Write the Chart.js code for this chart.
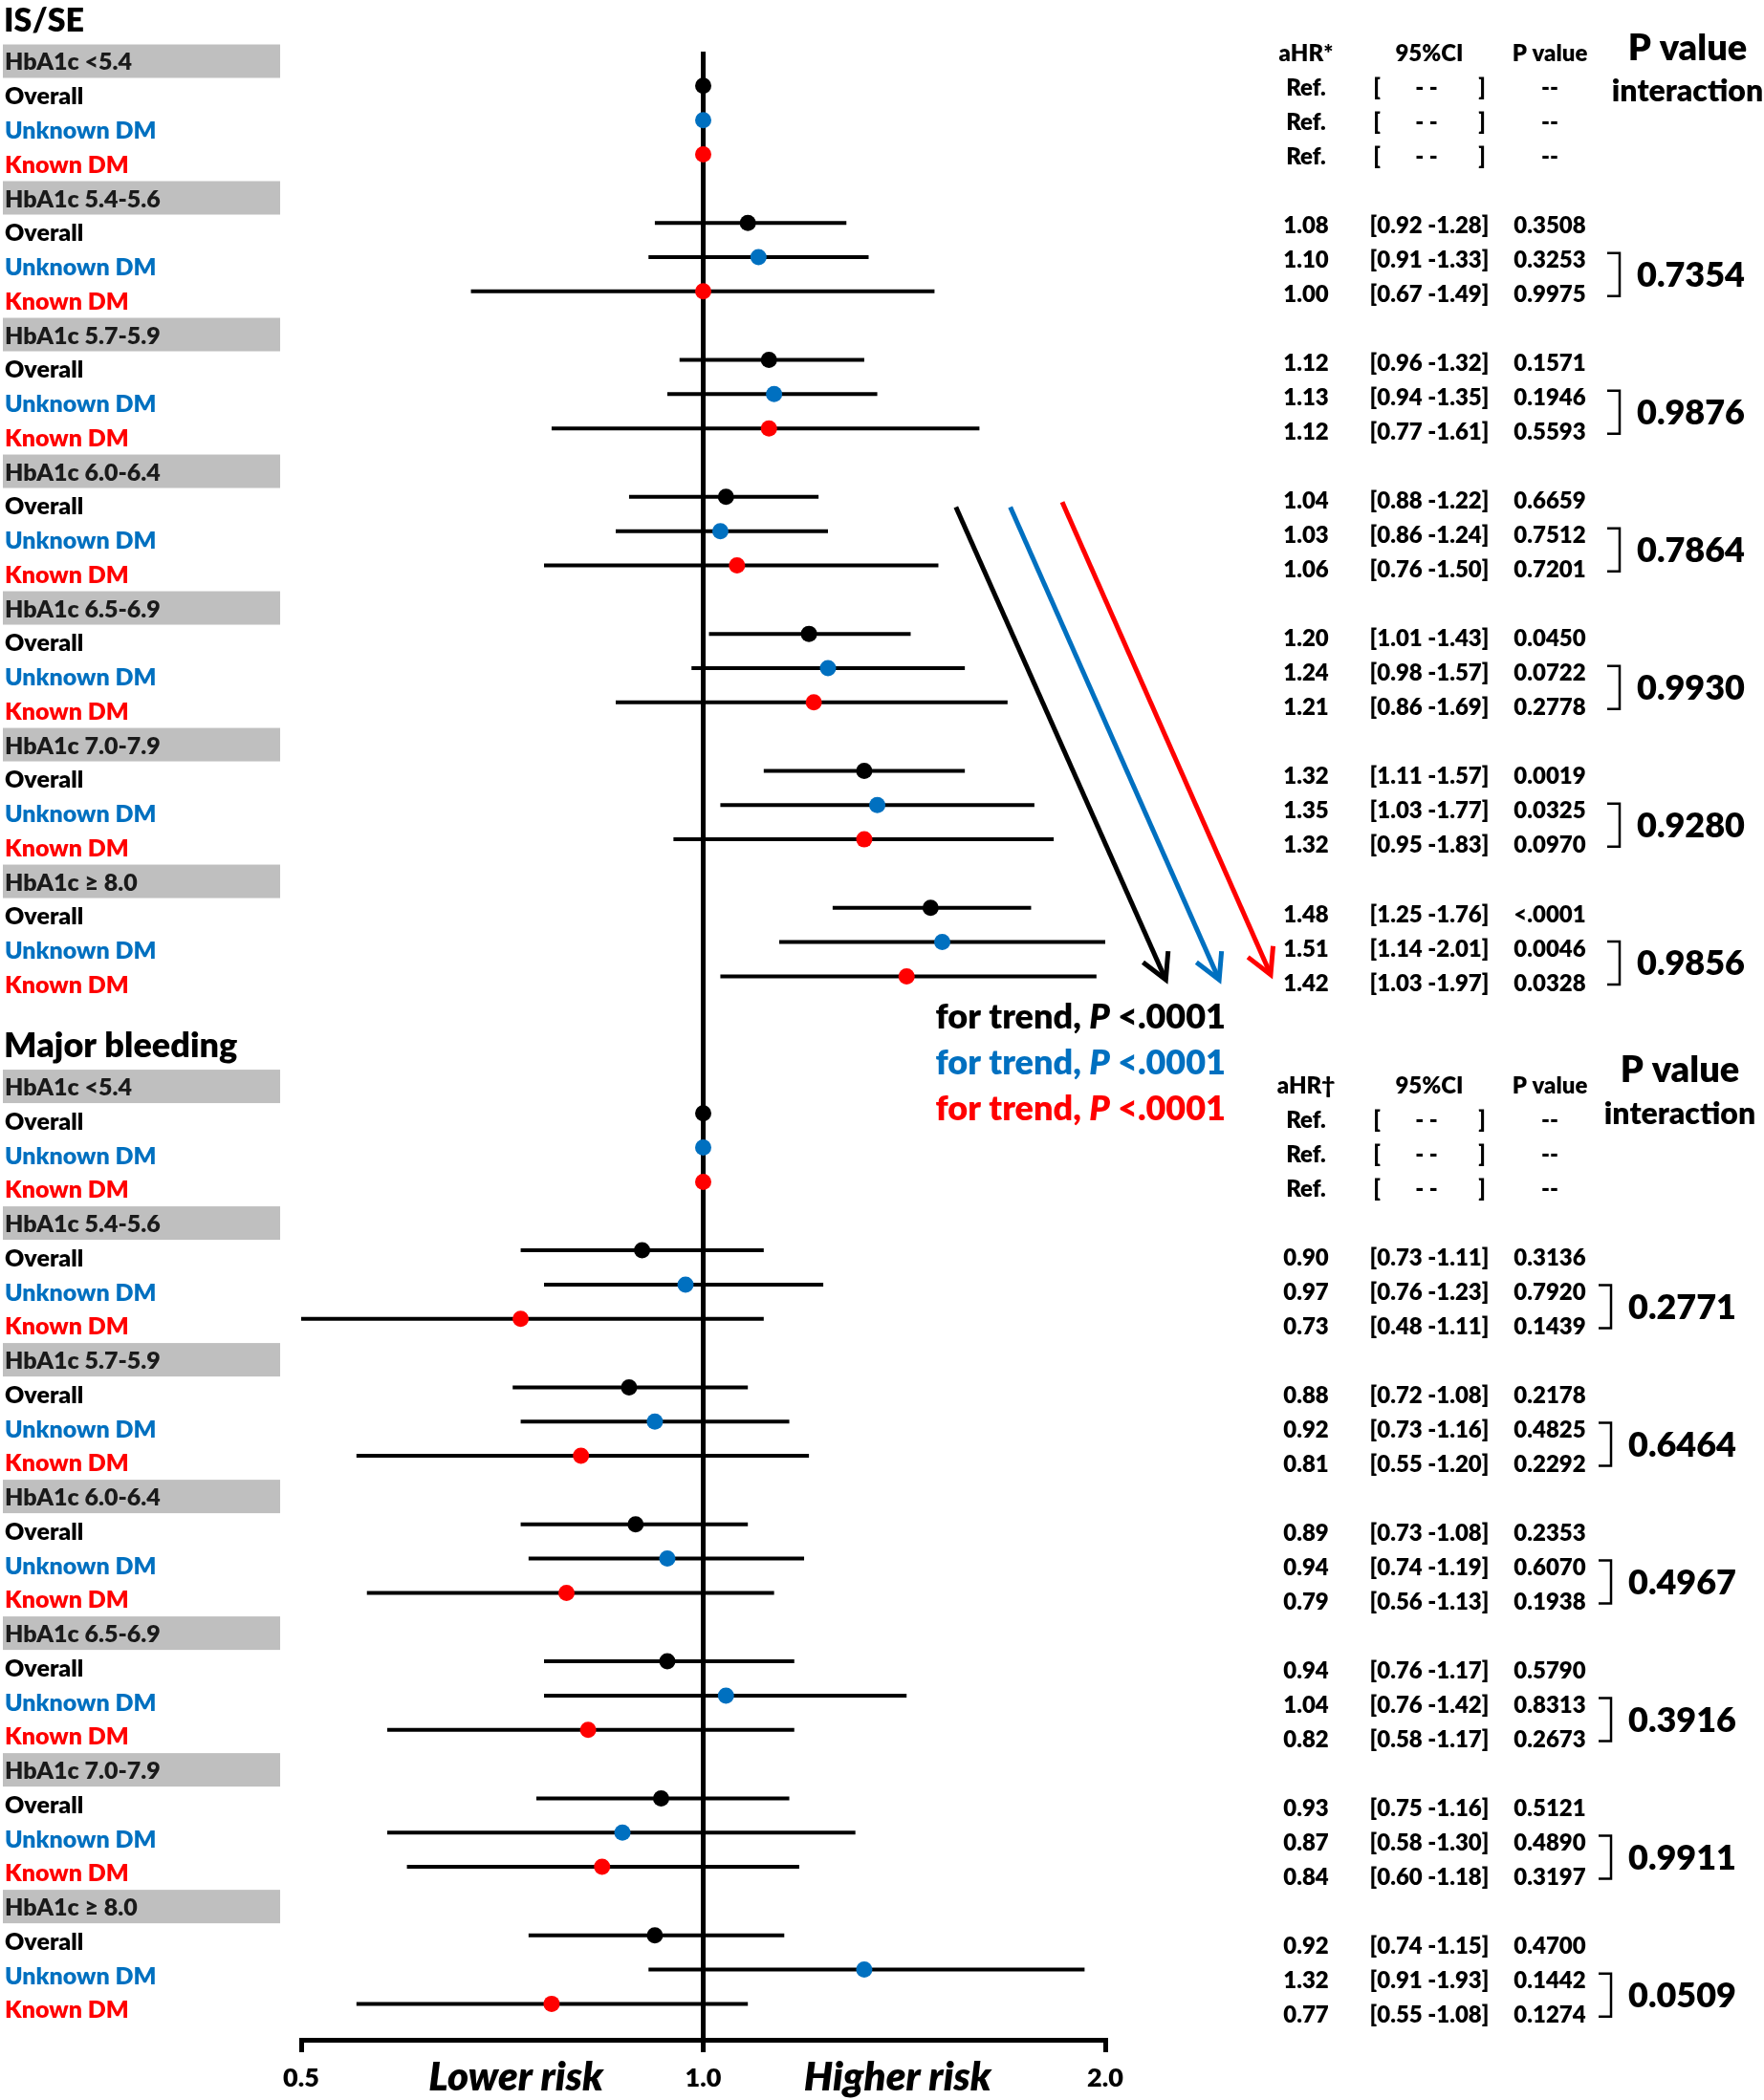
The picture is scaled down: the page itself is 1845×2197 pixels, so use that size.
<!DOCTYPE html>
<html>
<head>
<meta charset="utf-8">
<title>HbA1c and outcomes - forest plot</title>
<script src="https://cdn.jsdelivr.net/npm/chart.js@4.4.1/dist/chart.umd.min.js"></script>
<style>
  html, body { margin: 0; padding: 0; background: #fff; }
  canvas { display: block; }
</style>
</head>
<body>
<canvas id="forest" width="1845" height="2197"></canvas>
<script>
// --- Categories ---
const sectionTitles = ['IS/SE', 'Major bleeding'];
const hrHeaders = ['aHR*', 'aHR\u2020'];
const hba1cGroups = ['HbA1c <5.4', 'HbA1c 5.4-5.6', 'HbA1c 5.7-5.9', 'HbA1c 6.0-6.4', 'HbA1c 6.5-6.9', 'HbA1c 7.0-7.9', 'HbA1c \u2265 8.0'];
const subgroups = ['Overall', 'Unknown DM', 'Known DM'];
const xTickValues = [0.5, 1, 2];

// --- IS/SE ---
const isOverallHR = [1, 1.08, 1.12, 1.04, 1.20, 1.32, 1.48];
const isOverallLo = [null, 0.92, 0.96, 0.88, 1.01, 1.11, 1.25];
const isOverallHi = [null, 1.28, 1.32, 1.22, 1.43, 1.57, 1.76];
const isOverallP = ['--', '0.3508', '0.1571', '0.6659', '0.0450', '0.0019', '<.0001'];

const isUnknownHR = [1, 1.10, 1.13, 1.03, 1.24, 1.35, 1.51];
const isUnknownLo = [null, 0.91, 0.94, 0.86, 0.98, 1.03, 1.14];
const isUnknownHi = [null, 1.33, 1.35, 1.24, 1.57, 1.77, 2.01];
const isUnknownP = ['--', '0.3253', '0.1946', '0.7512', '0.0722', '0.0325', '0.0046'];

const isKnownHR = [1, 1.00, 1.12, 1.06, 1.21, 1.32, 1.42];
const isKnownLo = [null, 0.67, 0.77, 0.76, 0.86, 0.95, 1.03];
const isKnownHi = [null, 1.49, 1.61, 1.50, 1.69, 1.83, 1.97];
const isKnownP = ['--', '0.9975', '0.5593', '0.7201', '0.2778', '0.0970', '0.0328'];

const isInteractionP = ['', '0.7354', '0.9876', '0.7864', '0.9930', '0.9280', '0.9856'];

// --- Major bleeding ---
const mbOverallHR = [1, 0.90, 0.88, 0.89, 0.94, 0.93, 0.92];
const mbOverallLo = [null, 0.73, 0.72, 0.73, 0.76, 0.75, 0.74];
const mbOverallHi = [null, 1.11, 1.08, 1.08, 1.17, 1.16, 1.15];
const mbOverallP = ['--', '0.3136', '0.2178', '0.2353', '0.5790', '0.5121', '0.4700'];

const mbUnknownHR = [1, 0.97, 0.92, 0.94, 1.04, 0.87, 1.32];
const mbUnknownLo = [null, 0.76, 0.73, 0.74, 0.76, 0.58, 0.91];
const mbUnknownHi = [null, 1.23, 1.16, 1.19, 1.42, 1.30, 1.93];
const mbUnknownP = ['--', '0.7920', '0.4825', '0.6070', '0.8313', '0.4890', '0.1442'];

const mbKnownHR = [1, 0.73, 0.81, 0.79, 0.82, 0.84, 0.77];
const mbKnownLo = [null, 0.48, 0.55, 0.56, 0.58, 0.60, 0.55];
const mbKnownHi = [null, 1.11, 1.20, 1.13, 1.17, 1.18, 1.08];
const mbKnownP = ['--', '0.1439', '0.2292', '0.1938', '0.2673', '0.3197', '0.1274'];

const mbInteractionP = ['', '0.2771', '0.6464', '0.4967', '0.3916', '0.9911', '0.0509'];

const trendLabel = ['for trend, ', 'P', ' <.0001'];

// --- Assemble ---
const sectionSeries = [
    [
        { hr: isOverallHR, lo: isOverallLo, hi: isOverallHi, p: isOverallP },
        { hr: isUnknownHR, lo: isUnknownLo, hi: isUnknownHi, p: isUnknownP },
        { hr: isKnownHR, lo: isKnownLo, hi: isKnownHi, p: isKnownP }
    ],
    [
        { hr: mbOverallHR, lo: mbOverallLo, hi: mbOverallHi, p: mbOverallP },
        { hr: mbUnknownHR, lo: mbUnknownLo, hi: mbUnknownHi, p: mbUnknownP },
        { hr: mbKnownHR, lo: mbKnownLo, hi: mbKnownHi, p: mbKnownP }
    ]
];
const interactionP = [isInteractionP, mbInteractionP];

const subColors = ['#000000', '#0070C0', '#FF0000'];
const FONT = 'Lato, "Open Sans", sans-serif';
const W = '800';          // heavy weight, closer to the original Calibri bold
const SECTION_ROWS = 30;

// row index on the y scale (0 = first header row)
const rowOf = (s, g, k) => s * SECTION_ROWS + g * 4 + 1 + k;

const pointSets = subgroups.map((name, k) => ({
    label: name,
    data: [],
    backgroundColor: subColors[k],
    borderColor: subColors[k],
    borderWidth: 0,
    pointRadius: 8.5,
    pointHoverRadius: 8.5,
    showLine: false,
    order: 0
}));
const ciSets = [];

sectionSeries.forEach((series, s) => {
    series.forEach((ser, k) => {
        ser.hr.forEach((hr, g) => {
            const row = rowOf(s, g, k);
            pointSets[k].data.push({ x: hr, y: row });
            if (ser.lo[g] !== null) {
                ciSets.push({
                    label: 'ci',
                    data: [{ x: ser.lo[g], y: row }, { x: ser.hi[g], y: row }],
                    showLine: true,
                    borderColor: '#000',
                    borderWidth: 4,
                    pointRadius: 0,
                    pointHoverRadius: 0,
                    order: 1
                });
            }
        });
    });
});

// --- Text helpers ---
function drawText(ctx, str, x, yc, size, color, align, style) {
    ctx.save();
    ctx.font = (style || W) + ' ' + size + 'px ' + FONT;
    ctx.fillStyle = color;
    ctx.textAlign = align || 'left';
    ctx.textBaseline = 'alphabetic';
    ctx.fillText(str, x, yc + size * 0.36);
    ctx.restore();
}

function drawArrow(ctx, x1, y1, x2, y2, color) {
    const ang = Math.atan2(y2 - y1, x2 - x1);
    const head = 30, spread = 0.5;
    ctx.save();
    ctx.strokeStyle = color;
    ctx.lineWidth = 5;
    ctx.lineCap = 'butt';
    ctx.beginPath();
    ctx.moveTo(x1, y1);
    ctx.lineTo(x2 - Math.cos(ang) * 2, y2 - Math.sin(ang) * 2);
    ctx.stroke();
    ctx.lineJoin = 'miter';
    ctx.beginPath();
    ctx.moveTo(x2 - head * Math.cos(ang - spread), y2 - head * Math.sin(ang - spread));
    ctx.lineTo(x2, y2);
    ctx.lineTo(x2 - head * Math.cos(ang + spread), y2 - head * Math.sin(ang + spread));
    ctx.stroke();
    ctx.restore();
}

// --- Annotations: row labels, table, arrows ---
const forestAnnotations = {
    id: 'forestAnnotations',
    afterDraw(chart) {
        const ctx = chart.ctx;
        const xs = chart.scales.x;
        const ys = chart.scales.y;
        const labelY = r => ys.getPixelForValue(0.293 + 0.9978 * r);
        const tableY = (s, r) => ys.getPixelForValue(s === 0 ? 0.045 + 1.005 * r : 30.18 + 1.005 * r);

        const colHR = 1366, colCI = 1495, colP = 1621;
        const bracketX = [1694, 1685];
        const interX = [1712, 1703];
        const TS = 24;

        sectionTitles.forEach((title, s) => {
            drawText(ctx, title, 4, ys.getPixelForValue(s === 0 ? -0.93 : 29.0), s === 0 ? 34 : 36, '#000');

            // left labels
            hba1cGroups.forEach((grp, g) => {
                const yc = labelY(s * SECTION_ROWS + g * 4);
                ctx.fillStyle = '#bfbfbf';
                ctx.fillRect(3, yc - 18, 290, 35);
                drawText(ctx, grp, 5, yc, 25, '#1a1a1a');
                subgroups.forEach((name, k) => {
                    drawText(ctx, name, 5, labelY(rowOf(s, g, k)), 25, subColors[k]);
                });
            });

            // table header
            drawText(ctx, hrHeaders[s], colHR, tableY(s, 0), TS, '#000', 'center');
            drawText(ctx, '95%CI', colCI, tableY(s, 0), TS, '#000', 'center');
            drawText(ctx, 'P value', colP, tableY(s, 0), TS, '#000', 'center');
            drawText(ctx, 'P value', s === 0 ? 1765 : 1757, ys.getPixelForValue(s === 0 ? -0.14 : 29.7), 38, '#000', 'center');
            drawText(ctx, 'interaction', s === 0 ? 1765 : 1757, ys.getPixelForValue(s === 0 ? 1.12 : 31.0), 32, '#000', 'center');

            // table values
            sectionSeries[s].forEach((ser, k) => {
                ser.hr.forEach((hr, g) => {
                    const yc = tableY(s, g * 4 + 1 + k);
                    if (ser.lo[g] === null) {
                        drawText(ctx, 'Ref.', colHR, yc, TS, '#000', 'center');
                        drawText(ctx, '[', 1440, yc, TS, '#000', 'center');
                        drawText(ctx, '- -', 1492, yc, TS, '#000', 'center');
                        drawText(ctx, ']', 1550, yc, TS, '#000', 'center');
                        drawText(ctx, '--', colP, yc, TS, '#000', 'center');
                    } else {
                        drawText(ctx, hr.toFixed(2), colHR, yc, TS, '#000', 'center');
                        drawText(ctx, '[' + ser.lo[g].toFixed(2) + ' -' + ser.hi[g].toFixed(2) + ']', colCI, yc, TS, '#000', 'center');
                        drawText(ctx, ser.p[g], colP, yc, TS, '#000', 'center');
                    }
                });
            });

            // interaction brackets
            interactionP[s].forEach((pv, g) => {
                if (!pv) return;
                const yTop = tableY(s, g * 4 + 2) - 7;
                const yBot = tableY(s, g * 4 + 3) + 2;
                const bx = bracketX[s];
                ctx.save();
                ctx.strokeStyle = '#000';
                ctx.lineWidth = 2.5;
                ctx.beginPath();
                ctx.moveTo(bx - 13, yTop);
                ctx.lineTo(bx, yTop);
                ctx.lineTo(bx, yBot);
                ctx.lineTo(bx - 13, yBot);
                ctx.stroke();
                ctx.restore();
                drawText(ctx, pv, interX[s], (yTop + yBot) / 2, 36, '#000', 'left');
            });
        });

        // trend arrows (x in HR units, y in rows)
        const arrows = [
            { from: [1.546, 13.3], to: [2.22, 27.1], color: subColors[0] },
            { from: [1.698, 13.3], to: [2.434, 27.1], color: subColors[1] },
            { from: [1.857, 13.15], to: [2.66, 26.95], color: subColors[2] }
        ];
        arrows.forEach(a => {
            drawArrow(ctx, xs.getPixelForValue(a.from[0]), ys.getPixelForValue(a.from[1]),
                xs.getPixelForValue(a.to[0]), ys.getPixelForValue(a.to[1]), a.color);
        });

        // "for trend, P <.0001"
        const trendRows = [28.17, 29.5, 30.83];
        trendRows.forEach((row, k) => {
            const size = 36;
            const yc = ys.getPixelForValue(row);
            ctx.save();
            ctx.font = W + ' ' + size + 'px ' + FONT;
            const w0 = ctx.measureText(trendLabel[0]).width;
            const w2 = ctx.measureText(trendLabel[2]).width;
            ctx.font = 'italic ' + W + ' ' + size + 'px ' + FONT;
            const w1 = ctx.measureText(trendLabel[1]).width;
            ctx.restore();
            const x0 = 1282 - (w0 + w1 + w2);
            drawText(ctx, trendLabel[0], x0, yc, size, subColors[k]);
            drawText(ctx, trendLabel[1], x0 + w0, yc, size, subColors[k], 'left', 'italic ' + W);
            drawText(ctx, trendLabel[2], x0 + w0 + w1, yc, size, subColors[k]);
        });

        // risk direction labels
        const yRisk = ys.getPixelForValue(59.1);
        drawText(ctx, 'Lower risk', xs.getPixelForValue(0.724), yRisk, 42, '#000', 'center', 'italic ' + W);
        drawText(ctx, 'Higher risk', xs.getPixelForValue(1.398), yRisk, 42, '#000', 'center', 'italic ' + W);
    }
};

// --- Chart ---
function drawForest() {
    const ctx = document.getElementById('forest').getContext('2d');
    new Chart(ctx, {
        type: 'scatter',
        data: { datasets: [...pointSets, ...ciSets] },
        options: {
            responsive: false,
            animation: false,
            events: [],
            layout: { padding: { left: 315, right: 689, top: 54, bottom: 0 } },
            plugins: { legend: { display: false }, tooltip: { enabled: false } },
            scales: {
                x: {
                    type: 'logarithmic',
                    min: 0.5,
                    max: 2,
                    afterBuildTicks: scale => { scale.ticks = xTickValues.map(v => ({ value: v })); },
                    afterFit: scale => { scale.height = 63; },
                    ticks: {
                        autoSkip: false,
                        maxRotation: 0,
                        padding: 11,
                        color: '#000',
                        font: { family: FONT, size: 27, weight: W },
                        callback: v => Number(v).toFixed(1)
                    },
                    grid: {
                        drawOnChartArea: true,
                        color: c => (c.tick && c.tick.value === 1 ? '#000' : 'rgba(0,0,0,0)'),
                        tickColor: '#000',
                        lineWidth: 5,
                        tickLength: 13
                    },
                    border: { display: true, color: '#000', width: 5 }
                },
                y: {
                    type: 'linear',
                    reverse: true,
                    min: 0,
                    max: 58.05,
                    display: false
                }
            }
        },
        plugins: [forestAnnotations]
    });
}

if (document.fonts && document.fonts.load) {
    Promise.all([
        document.fonts.load(W + ' 25px Lato'),
        document.fonts.load('italic ' + W + ' 40px Lato')
    ]).then(drawForest, drawForest);
} else {
    drawForest();
}
</script>
</body>
</html>
